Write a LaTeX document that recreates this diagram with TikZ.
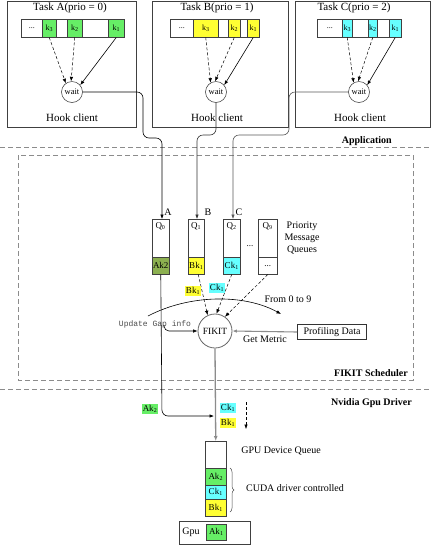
\documentclass[tikz,border=0pt]{standalone}
\usepackage{fontspec}
\setmainfont{Liberation Serif}
\setmonofont{Liberation Mono}
\usetikzlibrary{arrows.meta,decorations.pathreplacing,calc}
\definecolor{kg}{RGB}{102,238,102}
\definecolor{ky}{RGB}{255,255,51}
\definecolor{kc}{RGB}{102,255,255}
\definecolor{kol}{RGB}{140,176,80}
\tikzset{
  cell/.style={draw=black!75, line width=0.5pt, inner sep=0pt, anchor=north west, minimum height=18pt, font=\fontsize{8}{8}\selectfont},
  qcell/.style={draw=black!75, line width=0.5pt, inner sep=0pt, anchor=north west, font=\fontsize{9}{9}\selectfont},
  taskbox/.style={draw=black!75, line width=0.6pt},
  waitc/.style={circle, draw=black!80, line width=0.5pt, minimum size=21pt, inner sep=0pt, font=\fontsize{8.5}{8.5}\selectfont},
  tip/.style={-{Latex[length=4.5pt,width=3.5pt]}},
  dsh/.style={dashed, dash pattern=on 3pt off 2pt, line width=0.5pt, tip},
  sol/.style={line width=0.6pt, tip},
  sep/.style={draw=black!45, dashed, dash pattern=on 5pt off 3pt, line width=0.8pt},
  lbl/.style={font=\fontsize{10}{10}\selectfont, inner sep=1pt},
  big/.style={font=\fontsize{11}{11}\selectfont, inner sep=0pt},
  bld/.style={font=\fontsize{10}{10}\selectfont\bfseries, inner sep=0pt},
  tag/.style={font=\fontsize{9}{9}\selectfont, inner sep=1pt},
  grayline/.style={draw=black!45, line width=1.3pt},
}
\begin{document}
\begin{tikzpicture}[x=1pt,y=-1pt]
\useasboundingbox (0,0) rectangle (431,550);
\fill[white] (0,0) rectangle (431,550);

% ---- task boxes
\node[taskbox, minimum width=129pt, minimum height=126pt, anchor=north west] (ta) at (7,1) {};
\node[taskbox, minimum width=136pt, minimum height=126pt, anchor=north west] (tb) at (152,1) {};
\node[taskbox, minimum width=135pt, minimum height=126pt, anchor=north west] (tc) at (295,1) {};
\node[big] (tta) at (70,8) {Task A(prio = 0)};
\node[big] (ttb) at (217,8) {Task B(prio = 1)};
\node[big] (ttc) at (354,8) {Task C(prio = 2)};

% Task A queue
\node[cell, minimum width=21pt] (a0) at (21,19) {...};
\node[cell, minimum width=14pt, fill=kg] (ak3) at (42,19) {k\textsubscript{3}};
\node[cell, minimum width=11pt] (ae1) at (56,19) {};
\node[cell, minimum width=15pt, fill=kg] (ak2) at (67,19) {k\textsubscript{2}};
\node[cell, minimum width=26pt] (ae2) at (82,19) {};
\node[cell, minimum width=16pt, fill=kg] (ak1) at (108,19) {k\textsubscript{1}};
% Task B queue
\node[cell, minimum width=23pt] (b0) at (170,19) {...};
\node[cell, minimum width=25pt, fill=ky] (bk3) at (193,19) {k\textsubscript{3}};
\node[cell, minimum width=10pt] (be1) at (218,19) {};
\node[cell, minimum width=12pt, fill=ky] (bk2) at (228,19) {k\textsubscript{2}};
\node[cell, minimum width=7pt] (be2) at (240,19) {};
\node[cell, minimum width=12pt, fill=ky] (bk1) at (247,19) {k\textsubscript{1}};
% Task C queue
\node[cell, minimum width=25pt] (c0) at (317,19) {...};
\node[cell, minimum width=10pt, fill=kc] (ck3) at (342,19) {k\textsubscript{3}};
\node[cell, minimum width=16pt] (ce1) at (352,19) {};
\node[cell, minimum width=9pt, fill=kc] (ck2) at (368,19) {k\textsubscript{2}};
\node[cell, minimum width=12pt] (ce2) at (377,19) {};
\node[cell, minimum width=12pt, fill=kc] (ck1) at (389,19) {k\textsubscript{1}};

% wait nodes
\node[waitc] (wa) at (72,92) {wait};
\node[waitc] (wb) at (216,92) {wait};
\node[waitc] (wc) at (359,92) {wait};
\draw[dsh] (ak3.south) -- (wa.125);
\draw[dsh] (ak2.south) -- (wa.95);
\draw[sol] (ak1.south) -- (wa.40);
\draw[dsh] (bk3.south) -- (wb.120);
\draw[dsh] (bk2.south) -- (wb.95);
\draw[sol] (bk1.south) -- (wb.40);
\draw[dsh] (ck3.south) -- (wc.120);
\draw[dsh] (ck2.south) -- (wc.95);
\draw[sol] (ck1.south) -- (wc.40);
\node[big] (ha) at (72,118) {Hook client};
\node[big] (hb) at (217,118) {Hook client};
\node[big] (hc) at (360,118) {Hook client};

% separators
\draw[sep] (0,147) -- (431,147);
\node[bld, anchor=east] (app) at (392,141) {Application};
\draw[sep] (18,155) rectangle (413,380);
\node[bld, anchor=east] (fs) at (408,373) {FIKIT Scheduler};
\draw[sep] (0,389) -- (431,389);
\node[bld, anchor=east] (nv) at (412,403) {Nvidia Gpu Driver};

% priority queues
\node[qcell, minimum width=17pt, minimum height=55pt] (q0) at (152,219) {};
\node[qcell, minimum width=17pt, minimum height=17pt, fill=kol] (q0c) at (152,257) {Ak2};
\node[qcell, minimum width=16pt, minimum height=55pt] (q1) at (188,219) {};
\node[qcell, minimum width=16pt, minimum height=17pt, fill=ky] (q1c) at (188,257) {Bk\textsubscript{1}};
\node[qcell, minimum width=17pt, minimum height=55pt] (q2) at (223,219) {};
\node[qcell, minimum width=17pt, minimum height=17pt, fill=kc] (q2c) at (223,257) {Ck\textsubscript{1}};
\node[qcell, minimum width=19pt, minimum height=55pt] (q9) at (258,219) {};
\node[qcell, minimum width=19pt, minimum height=17pt] (q9c) at (258,257) {...};
\node[tag] at (160.5,226) {Q\textsubscript{0}};
\node[tag] at (196,226) {Q\textsubscript{1}};
\node[tag] at (231.5,226) {Q\textsubscript{2}};
\node[tag] at (267.5,226) {Q\textsubscript{9}};
\node[tag] (qd) at (250,246) {...};
\node[lbl, align=center, font=\fontsize{10}{12}\selectfont] (pmq) at (302,238) {Priority\\Message\\Queues};
\node[lbl] (la) at (168,212) {A};
\node[lbl] (lb) at (208,212) {B};
\node[lbl] (lc) at (239,212) {C};

% client -> queue connectors
\draw[sol, rounded corners=6pt] (wa.east) -- (143,92) -- (143,138) -- (162,138) -- (162,219);
\draw[sol, draw=black!80, rounded corners=6pt] (wb.south) -- (216,135) -- (197,135) -- (197,219);
\draw[sol, draw=black!65, rounded corners=6pt] (wc.west) -- (289,92) -- (289,135) -- (233,135) -- (233,219);

% FIKIT
\node[circle, draw=black!60, line width=0.8pt, minimum size=34pt, inner sep=0pt, font=\fontsize{9.5}{9.5}\selectfont] (fk) at (215,331) {FIKIT};
\draw[dsh] ($(q1c.south)+(2,0)$) -- (fk.115);
\draw[dsh] ($(q2c.south)+(0,0)$) -- (fk.85);
\draw[dsh] ($(q9c.south)+(0,0)$) -- (fk.55);
\node[tag, fill=ky] (lbk) at (193,291) {Bk\textsubscript{1}};
\node[tag, fill=kc] (lck) at (217,288) {Ck\textsubscript{1}};

\coordinate (arcs) at (148,316);
\coordinate (arce) at (281,314);
\draw[sol] (arcs) .. controls (190,294) and (245,294) .. (arce);
\node[lbl] (ft) at (288,299) {From 0 to 9};

\node[font=\ttfamily\fontsize{8}{8}\selectfont, text=black!70, inner sep=0pt] (upd) at (155,324) {Update Gap info};
\coordinate (updc) at (164,325);
\draw[sol, rounded corners=5pt] (updc) |- (fk.west);

\node[draw=black!80, line width=0.6pt, minimum width=69pt, minimum height=15pt, inner sep=0pt, font=\fontsize{10}{10}\selectfont] (prof) at (332,332) {Profiling Data};
\draw[sol, draw=black!45, line width=1.1pt] (prof.west) -- (fk.east);
\node[lbl] (gm) at (265,339) {Get Metric};

% GPU device queue
\node[qcell, minimum width=21pt, minimum height=75pt] (gq) at (205,441) {};
\node[qcell, minimum width=21pt, minimum height=17pt, fill=kg] (g1) at (205,468) {Ak\textsubscript{2}};
\node[qcell, minimum width=21pt, minimum height=14pt, fill=kc] (g2) at (205,485) {Ck\textsubscript{1}};
\node[qcell, minimum width=21pt, minimum height=17pt, fill=ky] (g3) at (205,499) {Bk\textsubscript{1}};
\draw[grayline, -{Latex[length=5pt,width=4pt]}] (fk.south) -- (gq.north);
\node[tag, fill=kc] (lck2) at (228,408) {Ck\textsubscript{1}};
\node[tag, fill=ky] (lbk2) at (228,423) {Bk\textsubscript{1}};
\coordinate (ds) at (246,402);
\coordinate (de) at (246,429);
\draw[dsh] (ds) -- (de);
\node[tag, fill=kg] (lak) at (150,409) {Ak\textsubscript{2}};
\coordinate (aend) at (214,416);
\draw[sol, rounded corners=6pt] (q0c.south) -- (162,416) -- (aend);

\node[lbl] (gdq) at (281,451) {GPU Device Queue};
\draw[decorate, decoration={brace, amplitude=4pt}, draw=black!70, line width=0.5pt] (230,468) -- (230,512);
\node[lbl] (cuda) at (295,488) {CUDA driver controlled};

\node[draw=black!75, line width=0.6pt, minimum width=71pt, minimum height=23pt, anchor=north west] (gpu) at (179,521) {};
\node[lbl] (gput) at (191,532) {Gpu};
\node[qcell, minimum width=20pt, minimum height=16pt, fill=kg] (ak1g) at (206,524) {Ak\textsubscript{1}};
\end{tikzpicture}
\end{document}
